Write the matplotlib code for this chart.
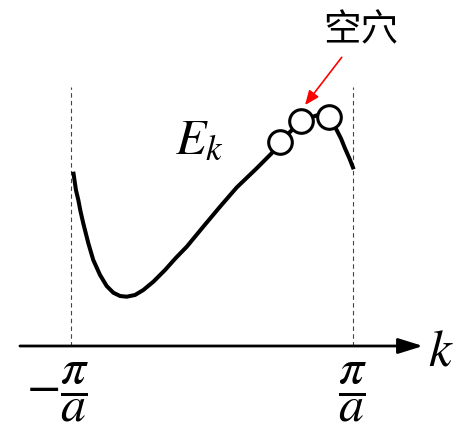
import matplotlib
matplotlib.use("Agg")
import matplotlib.pyplot as plt

plt.rcParams["mathtext.fontset"] = "stix"
plt.rcParams["font.family"] = ["Noto Sans CJK SC", "DejaVu Sans"]

# 能带曲线 E(k)，k 以 π/a 为单位
k_band = [-0.984, -0.965, -0.948, -0.933, -0.913, -0.877, -0.842, -0.794,
          -0.747, -0.700, -0.652, -0.605, -0.546, -0.487, -0.416, -0.333,
          -0.257, -0.179, -0.062, 0.057, 0.175, 0.317, 0.423,
          0.482, 0.631, 0.752, 0.830, 0.884, 0.915, 0.943, 0.975, 1.005]
e_band = [1.743, 1.56, 1.46, 1.35, 1.227, 1.027, 0.86, 0.71,
          0.60, 0.533, 0.50, 0.493, 0.51, 0.56, 0.643, 0.76,
          0.88, 0.993, 1.193, 1.393, 1.585, 1.777, 1.927,
          2.037, 2.253, 2.31, 2.293, 2.16, 2.075, 1.977, 1.875, 1.767]

# 空穴位置
k_holes = [0.482, 0.631, 0.830]
e_holes = [2.037, 2.253, 2.293]

# 布里渊区边界
zone_edges = [-1.0, 1.0]
zone_labels = [r"$-\dfrac{\pi}{a}$", r"$\dfrac{\pi}{a}$"]

fig = plt.figure(figsize=(4.72, 4.44), dpi=100)
ax = fig.add_axes([0, 0, 1, 1])
ax.set_xlim(-1.5035, 1.844)
ax.set_ylim(-0.98, 3.46)
ax.axis("off")

# 虚线边界
for kb in zone_edges:
    ax.plot([kb, kb], [0, 2.59], color="#444444", lw=0.8, ls=(0, (4, 3)), zorder=1)

# k 轴
ax.annotate("", xy=(1.496, 0), xytext=(-1.362, 0),
            arrowprops=dict(arrowstyle="-|>,head_length=0.4,head_width=0.125",
                            mutation_scale=37.5, lw=2.0, color="black",
                            shrinkA=0, shrinkB=0))
ax.text(1.532, -0.19, r"$k$", fontsize=37, ha="left", va="baseline")

# 曲线
ax.plot(k_band, e_band, color="black", lw=2.9, solid_capstyle="butt",
        solid_joinstyle="round", zorder=2)
ax.plot(k_holes, e_holes, ls="none", marker="o", markersize=17,
        mfc="white", mec="black", mew=2.2, zorder=3)

ax.text(-0.262, 1.93, r"$E_k$", fontsize=36, ha="left", va="baseline")

# 刻度标签
ax.text(zone_edges[0] + 0.128, -0.465, zone_labels[0], fontsize=36,
        ha="right", va="center")
ax.text(zone_edges[1] - 0.007, -0.465, zone_labels[1], fontsize=36,
        ha="center", va="center")

# 空穴标注
ax.annotate("", xy=(0.660, 2.41), xytext=(0.920, 2.887),
            arrowprops=dict(arrowstyle="-|>,head_length=0.43,head_width=0.18",
                            mutation_scale=20, lw=1.2, color="red",
                            shrinkA=0, shrinkB=0))
ax.text(1.053, 3.15, "空穴", fontsize=27, fontweight="medium",
        ha="center", va="center")

fig.savefig("out.png", dpi=100)
